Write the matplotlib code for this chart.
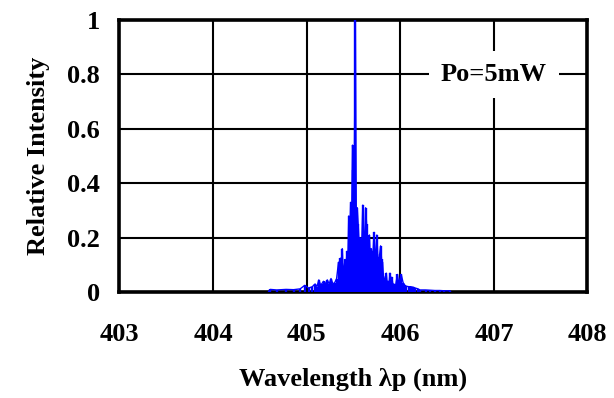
import matplotlib
matplotlib.use("Agg")
import matplotlib.pyplot as plt

# Emission spectrum of the laser diode at Po = 5 mW
wavelength_nm = [
    404.59, 404.61, 404.68, 404.78, 404.86, 404.93, 404.98, 405.02, 405.06,
    405.09, 405.11, 405.13, 405.15, 405.16, 405.18, 405.20, 405.22, 405.24,
    405.26, 405.28, 405.30, 405.32, 405.34, 405.35, 405.36, 405.37, 405.38,
    405.39, 405.40, 405.41, 405.42, 405.43, 405.44, 405.45, 405.46, 405.47,
    405.48, 405.49, 405.50, 405.51, 405.52, 405.53, 405.54, 405.55, 405.56,
    405.57, 405.58, 405.59, 405.60, 405.61, 405.62, 405.63, 405.64, 405.65,
    405.66, 405.67, 405.68, 405.69, 405.70, 405.71, 405.72, 405.73, 405.74,
    405.75, 405.76, 405.77, 405.78, 405.79, 405.80, 405.81, 405.82, 405.83,
    405.84, 405.85, 405.86, 405.87, 405.88, 405.89, 405.90, 405.91, 405.92,
    405.93, 405.95, 405.97, 405.98, 405.99, 406.01, 406.03, 406.05, 406.06,
    406.09, 406.11, 406.14, 406.16, 406.19, 406.21, 406.27, 406.32, 406.37,
    406.42, 406.47, 406.53,
]
relative_intensity = [
    0.000, 0.010, 0.008, 0.010, 0.009, 0.012, 0.025, 0.015, 0.020,
    0.030, 0.020, 0.045, 0.025, 0.030, 0.040, 0.030, 0.045, 0.030,
    0.050, 0.030, 0.035, 0.050, 0.110, 0.080, 0.125, 0.060, 0.160,
    0.070, 0.090, 0.120, 0.080, 0.150, 0.120, 0.280, 0.200, 0.330,
    0.250, 0.540, 0.450, 0.500, 1.000, 0.300, 0.310, 0.250, 0.180,
    0.200, 0.150, 0.200, 0.320, 0.180, 0.200, 0.310, 0.250, 0.170,
    0.150, 0.210, 0.120, 0.160, 0.130, 0.150, 0.220, 0.150, 0.120,
    0.210, 0.130, 0.100, 0.140, 0.170, 0.120, 0.110, 0.060, 0.050,
    0.040, 0.070, 0.035, 0.040, 0.030, 0.070, 0.040, 0.055, 0.030,
    0.030, 0.025, 0.065, 0.040, 0.040, 0.065, 0.035, 0.025, 0.022,
    0.020, 0.020, 0.018, 0.015, 0.012, 0.008, 0.008, 0.007, 0.006,
    0.006, 0.005, 0.005,
]

x_ticks = [403, 404, 405, 406, 407, 408]
y_ticks = [0, 0.2, 0.4, 0.6, 0.8, 1.0]
y_tick_labels = ["0", "0.2", "0.4", "0.6", "0.8", "1"]
power_label = "Po=5mW"

plt.rcParams["font.family"] = ["Liberation Serif", "DejaVu Serif"]
plt.rcParams["font.weight"] = "bold"
FS = 19

fig = plt.figure(figsize=(6.14, 3.98), dpi=100)
ax = fig.add_axes([0.1946, 0.266, 0.7622, 0.684])

ax.vlines(wavelength_nm, 0, relative_intensity, color="#0000ff", linewidth=1.7, zorder=3)
ax.plot(wavelength_nm, relative_intensity, color="#0000ff", linewidth=1.0, zorder=3)

ax.set_xlim(403, 408)
ax.set_ylim(0, 1)
ax.set_xticks(x_ticks)
ax.set_yticks(y_ticks)
ax.set_yticklabels(y_tick_labels)
ax.tick_params(axis="x", length=0, labelsize=FS, pad=22)
ax.tick_params(axis="y", length=0, labelsize=FS, pad=14)
for lbl in ax.get_xticklabels() + ax.get_yticklabels():
    lbl.set_fontweight("bold")

ax.grid(True, color="black", linewidth=1.5, zorder=1)
ax.set_axisbelow(True)
for sp in ax.spines.values():
    sp.set_linewidth(2.6)
    sp.set_color("black")

ax.set_xlabel("Wavelength λp (nm)", fontsize=FS, fontweight="bold", labelpad=16)
ax.set_ylabel("Relative Intensity", fontsize=FS, fontweight="bold", labelpad=12)

ax.text(407, 0.8, power_label, ha="center", va="center", fontsize=FS,
        fontweight="bold", zorder=4,
        bbox=dict(boxstyle="square,pad=0.45", facecolor="white", edgecolor="none"))

fig.savefig("out.png", dpi=100)
